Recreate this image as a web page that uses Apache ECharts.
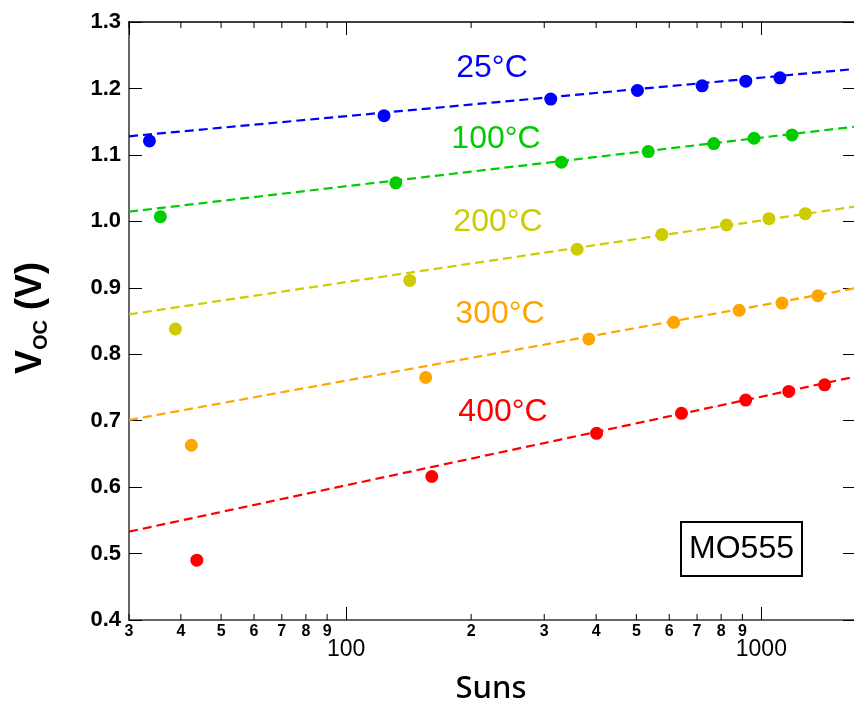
<!DOCTYPE html>
<html>
<head>
<meta charset="utf-8">
<script src="https://cdn.jsdelivr.net/npm/echarts@6/dist/echarts.min.js"></script>
<style>html,body{margin:0;padding:0;background:#fff;}#c{width:854px;height:711px;}</style>
</head>
<body>
<div id="c"></div>
<script>
// ---- data ----
const seriesNames = ['25°C', '100°C', '200°C', '300°C', '400°C'];
const seriesColors = ['#0000FF', '#00CC00', '#CCCC00', '#FFA500', '#FF0000'];

const suns25  = [33.6, 123.4, 311, 503, 720, 917, 1108];
const voc25   = [1.121, 1.159, 1.184, 1.197, 1.204, 1.211, 1.216];
const suns100 = [35.7, 131.7, 330, 534, 768, 960, 1185];
const voc100  = [1.007, 1.058, 1.089, 1.105, 1.117, 1.125, 1.130];
const suns200 = [38.8, 142.3, 360, 576, 824, 1043, 1276];
const voc200  = [0.838, 0.911, 0.958, 0.980, 0.9945, 1.004, 1.0115];
const suns300 = [42.4, 155.5, 384, 615, 884, 1121, 1368];
const voc300  = [0.663, 0.765, 0.823, 0.848, 0.866, 0.877, 0.888];
const suns400 = [43.7, 160.8, 401, 642, 917, 1164, 1420];
const voc400  = [0.490, 0.616, 0.681, 0.711, 0.731, 0.744, 0.754];

// dashed fit lines: values at the two ends of the x range
const fitSuns = [30, 1690];
const fit25  = [1.128, 1.2295];
const fit100 = [1.0145, 1.1427];
const fit200 = [0.860, 1.0225];
const fit300 = [0.701, 0.8995];
const fit400 = [0.533, 0.7665];

// axes
const xMin = 30, xMax = 1690;
const yMin = 0.4, yMax = 1.3, yStep = 0.1;
const minorTickSuns = [30, 40, 50, 60, 70, 80, 90, 200, 300, 400, 500, 600, 700, 800, 900];
const sampleLabel = 'MO555';

const sunsAll = [suns25, suns100, suns200, suns300, suns400];
const vocAll = [voc25, voc100, voc200, voc300, voc400];
const fitAll = [fit25, fit100, fit200, fit300, fit400];

const FONT = "'Liberation Sans', Arial, sans-serif";

const series = [];
fitAll.forEach((f, i) => {
  series.push({
    type: 'line', xAxisIndex: 0, yAxisIndex: 0,
    data: fitSuns.map((s, k) => [s, f[k]]),
    symbol: 'none', silent: true, z: 2,
    lineStyle: { color: seriesColors[i], width: 2.2, type: [9, 5] }
  });
});
sunsAll.forEach((s, i) => {
  series.push({
    type: 'scatter', name: seriesNames[i], xAxisIndex: 0, yAxisIndex: 0,
    data: s.map((x, k) => [x, vocAll[i][k]]),
    symbol: 'circle', symbolSize: 13, z: 3,
    itemStyle: { color: seriesColors[i], opacity: 1 }
  });
});
// minor log ticks (2..9 per decade) with digit labels, placed through the axis scale
series.push({
  type: 'custom', xAxisIndex: 0, yAxisIndex: 0, clip: false, silent: true, z: 5,
  data: minorTickSuns.map(v => [v, yMin]),
  renderItem: function (params, api) {
    const v = api.value(0);
    const pb = api.coord([v, yMin]);
    const pt = api.coord([v, yMax]);
    const digit = String(Math.round(v / Math.pow(10, Math.floor(Math.log10(v) + 1e-9))));
    return {
      type: 'group',
      children: [
        { type: 'line', shape: { x1: pb[0], y1: pb[1], x2: pb[0], y2: pb[1] - 6 }, style: { stroke: '#000', lineWidth: 1 } },
        { type: 'line', shape: { x1: pt[0], y1: pt[1], x2: pt[0], y2: pt[1] + 6 }, style: { stroke: '#000', lineWidth: 1 } },
        { type: 'text', x: pb[0], y: pb[1] + 12, style: { text: digit, font: 'bold 16px ' + FONT, fill: '#000', align: 'center', verticalAlign: 'middle' } }
      ]
    };
  }
});

const isPow10 = v => Math.abs(Math.log10(v) - Math.round(Math.log10(v))) < 1e-6;

const labelPos = [[492, 68], [496, 139], [498, 222], [500, 314], [503, 412]];

const option = {
  animation: false,
  backgroundColor: '#fff',
  grid: { left: 129, top: 22, right: -2, bottom: 91, containLabel: false, outerBoundsMode: 'none' },
  xAxis: [
    {
      type: 'log', position: 'bottom', min: xMin, max: xMax,
      axisLine: { show: true, lineStyle: { color: '#666', width: 2 } },
      axisTick: { show: true, inside: true, length: 13, lineStyle: { color: '#000', width: 1 } },
      minorTick: { show: false },
      splitLine: { show: false },
      axisLabel: {
        show: true, margin: 18, color: '#000', fontSize: 23, fontFamily: FONT,
        showMinLabel: false, showMaxLabel: false,
        formatter: v => isPow10(v) ? String(Math.round(v)) : ''
      }
    },
    {
      type: 'log', position: 'top', min: xMin, max: xMax,
      axisLine: { show: true, onZero: false, lineStyle: { color: '#000', width: 1.5 } },
      axisTick: { show: true, inside: true, length: 13, lineStyle: { color: '#000', width: 1 } },
      splitLine: { show: false },
      axisLabel: { show: false }
    }
  ],
  yAxis: [
    {
      type: 'value', position: 'left', min: yMin, max: yMax, interval: yStep,
      axisLine: { show: true, onZero: false, lineStyle: { color: '#666', width: 2 } },
      axisTick: { show: true, inside: true, length: 13, lineStyle: { color: '#000', width: 1 } },
      splitLine: { show: false },
      axisLabel: { margin: 8, color: '#000', fontSize: 22, fontWeight: 'bold', fontFamily: FONT, formatter: v => v.toFixed(1) }
    },
    {
      type: 'value', position: 'right', min: yMin, max: yMax, interval: yStep,
      axisLine: { show: true, onZero: false, lineStyle: { color: '#000', width: 1.5 } },
      axisTick: { show: true, inside: true, length: 13, lineStyle: { color: '#000', width: 1 } },
      splitLine: { show: false },
      axisLabel: { show: false }
    }
  ],
  series: series,
  graphic: [
    ...seriesNames.map((t, i) => ({
      type: 'text', x: labelPos[i][0], y: labelPos[i][1], z: 10,
      style: { text: t, font: '32px ' + FONT, fill: seriesColors[i], align: 'center', verticalAlign: 'middle' }
    })),
    {
      type: 'rect', shape: { x: 681, y: 522, width: 121, height: 54 }, z: 10,
      style: { fill: '#fff', stroke: '#000', lineWidth: 2 }
    },
    {
      type: 'text', x: 741.5, y: 549.5, z: 11,
      style: { text: sampleLabel, font: '32px ' + FONT, fill: '#000', align: 'center', verticalAlign: 'middle' }
    },
    {
      type: 'text', x: 491, y: 689, z: 10,
      style: { text: 'Suns', font: '500 31px "Noto Sans", ' + FONT, fill: '#000', align: 'center', verticalAlign: 'middle' }
    },
    {
      type: 'text', x: 31, y: 318, rotation: Math.PI / 2, z: 10,
      style: {
        text: '{v|V}{s|OC}{v| (V)}', align: 'center', verticalAlign: 'middle',
        rich: {
          v: { font: 'bold 36px ' + FONT, fill: '#000', lineHeight: 40 },
          s: { font: 'bold 20px ' + FONT, fill: '#000', lineHeight: 20, verticalAlign: 'bottom' }
        }
      }
    }
  ]
};

const chart = echarts.init(document.getElementById('c'), null, { renderer: 'canvas' });
chart.setOption(option);
</script>
</body>
</html>
